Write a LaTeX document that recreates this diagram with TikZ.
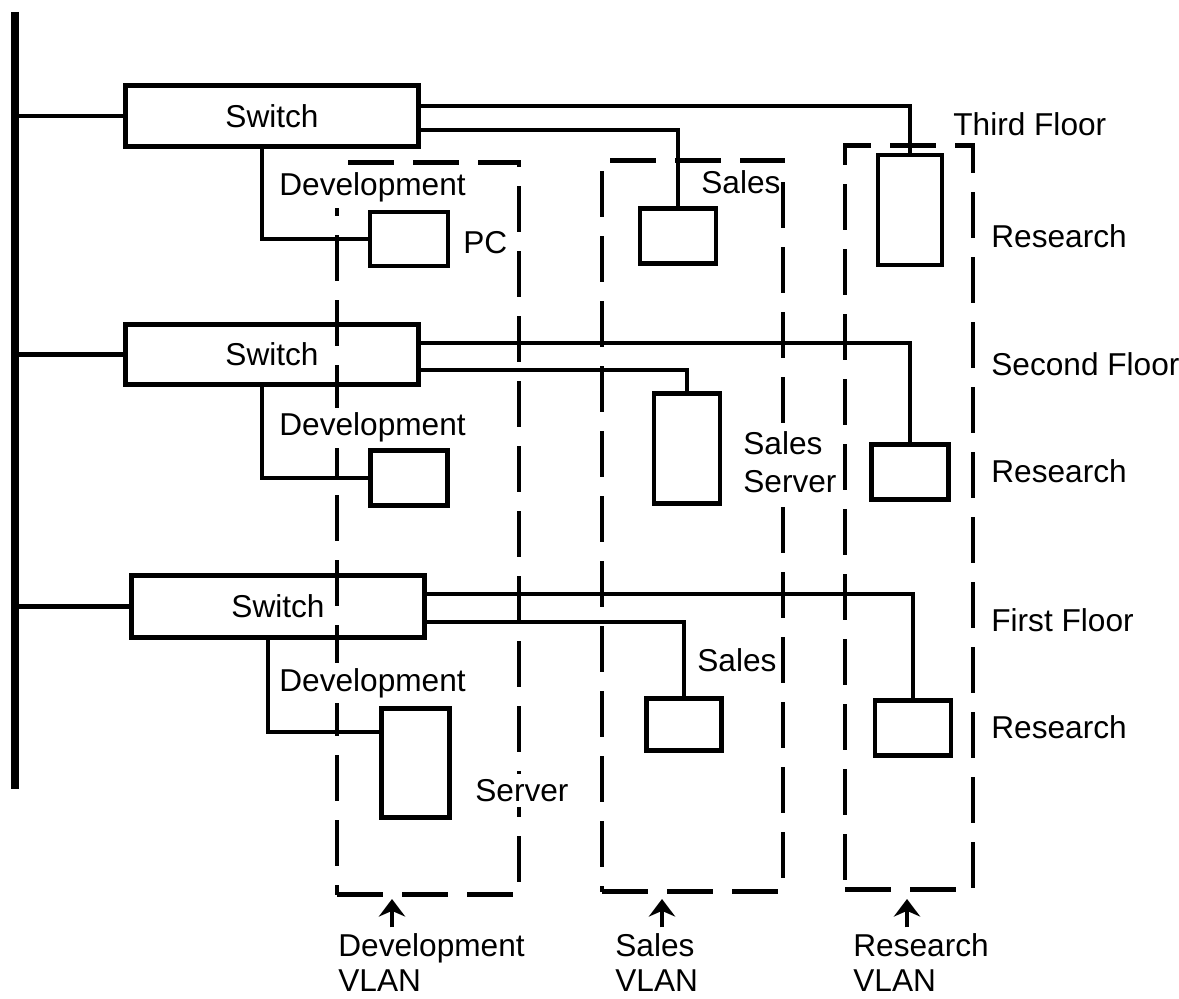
\documentclass[tikz,border=0pt]{standalone}
\usepackage{fontspec}
\setmainfont{Liberation Sans}
\usetikzlibrary{positioning,arrows.meta}

\begin{document}
\begin{tikzpicture}[
    x=0.02cm, y=-0.02cm,
    font=\fontsize{18}{21.6}\selectfont,
    switch/.style={rectangle, draw=black, line width=2.8pt, minimum width=5.86cm, minimum height=1.22cm, inner sep=0pt},
    device/.style={rectangle, draw=black, line width=2.8pt, inner sep=0pt},
    vlan/.style={rectangle, draw=black, line width=2.8pt, dash pattern=on 26pt off 11pt, inner sep=0pt},
    backbone/.style={line width=4.2pt},
    link/.style={line width=2.6pt},
    txt/.style={fill=white, inner xsep=0pt, inner ysep=3pt, anchor=base west},
    vlanname/.style={txt, anchor=north west, align=left, inner ysep=1pt, font=\fontsize{18}{20}\selectfont},
    arrow/.style={->, >={Stealth[length=10pt,width=15pt]}, line width=2.8pt, shorten <=2pt}
]
\useasboundingbox (0,0) rectangle (1179,999);

% VLAN groups
\node[vlan, minimum width=3.64cm, minimum height=14.66cm] (devvlan) at (428,528.5) {};
\node[vlan, minimum width=3.62cm, minimum height=14.64cm] (salesvlan) at (692.5,526) {};
\node[vlan, minimum width=2.56cm, minimum height=14.9cm] (resvlan) at (909,517.5) {};

% Backbone
\coordinate (bbtop) at (15,12);
\coordinate (bbbot) at (15,789);
\draw[backbone] (bbtop) -- (bbbot);

% Third floor
\node[switch] (sw3) at (272,116) {Switch};
\node[device, minimum width=1.56cm, minimum height=1.08cm] (pc3) at (409,239) {};
\node[device, minimum width=1.52cm, minimum height=1.1cm] (sales3) at (678,236) {};
\node[device, minimum width=1.28cm, minimum height=2.2cm] (res3) at (910,210) {};

% Second floor
\node[switch, minimum height=1.2cm] (sw2) at (272,354.5) {Switch};
\node[device, minimum width=1.54cm, minimum height=1.1cm] (dev2) at (409,478) {};
\node[device, minimum width=1.32cm, minimum height=2.2cm] (srv2) at (687,448.5) {};
\node[device, minimum width=1.54cm, minimum height=1.1cm] (res2) at (910,472) {};

% First floor
\node[switch, minimum height=1.24cm] (sw1) at (278,606.5) {Switch};
\node[device, minimum width=1.36cm, minimum height=2.18cm] (srv1) at (415.5,763) {};
\node[device, minimum width=1.5cm, minimum height=1.04cm] (sales1) at (684,724.5) {};
\node[device, minimum width=1.52cm, minimum height=1.1cm] (res1) at (913,728) {};

% Links
\draw[link] (sw3.west) -- (sw3.west -| bbtop);
\draw[link] ([yshift=0.2cm]sw3.east) -| (res3.north);
\draw[link] ([yshift=-0.28cm]sw3.east) -| (sales3.north);
\draw[link] ([xshift=-0.2cm]sw3.south) |- (pc3.west);

\draw[link] (sw2.west) -- (sw2.west -| bbtop);
\draw[link] ([yshift=0.23cm]sw2.east) -| (res2.north);
\draw[link] ([yshift=-0.31cm]sw2.east) -| (srv2.north);
\draw[link] ([xshift=-0.2cm]sw2.south) |- (dev2.west);

\draw[link] (sw1.west) -- (sw1.west -| bbtop);
\draw[link] ([yshift=0.25cm]sw1.east) -| (res1.north);
\draw[link] ([yshift=-0.31cm]sw1.east) -| (sales1.north);
\draw[link] ([xshift=-0.2cm]sw1.south) |- ([yshift=0.62cm]srv1.west);

% Labels
\node[txt] (devlbl3) at (279,196) {Development};
\node[txt] (pclbl) at (463,254) {PC};
\node[txt] (saleslbl3) at (701,194) {Sales};
\node[txt] (floor3) at (953,136) {Third Floor};
\node[txt] (reslbl3) at (991,248) {Research};

\node[txt] (devlbl2) at (279,436) {Development};
\node[txt, anchor=north west, align=left] (srvlbl2) at (743,426) {Sales\\Server};
\node[txt] (floor2) at (991,376) {Second Floor};
\node[txt] (reslbl2) at (991,483) {Research};

\node[txt] (devlbl1) at (279,691) {Development};
\node[txt] (saleslbl1) at (697,671) {Sales};
\node[txt] (srvlbl1) at (475,801) {Server};
\node[txt] (floor1) at (991,631) {First Floor};
\node[txt] (reslbl1) at (991,738) {Research};

% VLAN names
\node[vlanname] (devname) at (338,931) {Development\\VLAN};
\node[vlanname] (salesname) at (615,931) {Sales\\VLAN};
\node[vlanname] (resname) at (853,931) {Research\\VLAN};

\coordinate (devtip) at (392,899);
\coordinate (salestip) at (662,899);
\coordinate (restip) at (907,899);
\draw[arrow] (devname.north -| devtip) -- (devtip);
\draw[arrow] (salesname.north -| salestip) -- (salestip);
\draw[arrow] (resname.north -| restip) -- (restip);

\end{tikzpicture}
\end{document}
